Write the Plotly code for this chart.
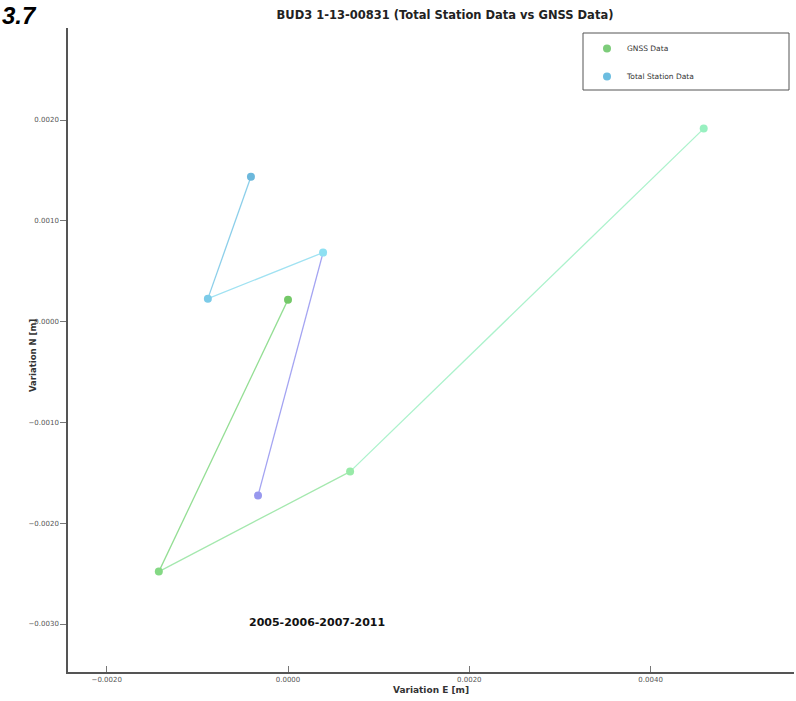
import plotly.graph_objects as go

# Yearly displacement, in metres (E, N), epochs 2005-2006-2007-2011
years = ["2005", "2006", "2007", "2011"]

gnss_e = [0.0000, -0.001425, 0.000685, 0.004586]
gnss_n = [0.000218, -0.002480, -0.001488, 0.001915]

ts_e = [-0.000331, 0.000387, -0.000884, -0.000409]
ts_n = [-0.001726, 0.000685, 0.000228, 0.001438]

# Colour ramps per epoch (points) and per interval (segments)
gnss_point_colors = ["#74c868", "#84d884", "#98eaa8", "#98f0c0"]
gnss_seg_colors = ["#94de94", "#a4e8ae", "#acf2cc"]
ts_point_colors = ["#9898ee", "#8ee0f2", "#7ccbe8", "#6cb8dc"]
ts_seg_colors = ["#a4a4f2", "#a0e2f2", "#8ccfea"]

x_ticks = [-0.002, 0.0, 0.002, 0.004]
y_ticks = [0.002, 0.001, 0.0, -0.001, -0.002, -0.003]

fig = go.Figure()


def add_path(xs, ys, seg_colors, point_colors, name):
    for i in range(len(xs) - 1):
        fig.add_trace(go.Scatter(
            x=xs[i:i + 2], y=ys[i:i + 2], mode="lines",
            line=dict(color=seg_colors[i], width=1.3),
            showlegend=False, hoverinfo="skip"))
    fig.add_trace(go.Scatter(
        x=xs, y=ys, mode="markers", name=name, text=years,
        marker=dict(color=point_colors, size=8),
        showlegend=False))


add_path(gnss_e, gnss_n, gnss_seg_colors, gnss_point_colors, "GNSS Data")
add_path(ts_e, ts_n, ts_seg_colors, ts_point_colors, "Total Station Data")

# Legend entries
fig.add_trace(go.Scatter(x=[None], y=[None], mode="markers", name="GNSS Data",
                         legendgroup="g", marker=dict(color="#7dcc7a", size=8)))
fig.add_trace(go.Scatter(x=[None], y=[None], mode="markers", name="Total Station Data",
                         legendgroup="t", marker=dict(color="#6cbde0", size=8)))

W, H = 796, 701
L, R, T, B = 68, 2, 28, 29
pw, ph = W - L - R, H - T - B


def px_x(p):
    return (p - L) / pw


def px_y(p):
    return 1 - (p - T) / ph


tick_font = dict(family="DejaVu Sans", size=7, color="#555555")
title_font = dict(family="DejaVu Sans", size=9, color="#333333")

fig.update_layout(
    width=W, height=H,
    margin=dict(l=L, r=R, t=T, b=B),
    paper_bgcolor="white", plot_bgcolor="white",
    title=dict(text="<b>BUD3 1-13-00831 (Total Station Data vs GNSS Data)</b>",
               x=445 / W, xanchor="center", y=1 - 15 / H, yanchor="middle",
               font=dict(family="DejaVu Sans", size=11.5, color="#222222")),
    xaxis=dict(range=[-0.002427, 0.005582], tickvals=x_ticks, tickformat=".4f",
               showgrid=False, zeroline=False, showline=True, linecolor="#555555",
               linewidth=1.5, ticks="inside", ticklen=6, tickcolor="#777777",
               tickfont=tick_font,
               title=dict(text="<b>Variation E [m]</b>", font=title_font, standoff=4)),
    yaxis=dict(range=[-0.003476, 0.002913], tickvals=y_ticks, tickformat=".4f",
               showgrid=False, zeroline=False, showline=True, linecolor="#555555",
               linewidth=1.5, ticks="outside", ticklen=6, tickcolor="#777777",
               tickfont=tick_font),
    legend=dict(x=px_x(587), y=px_y(34), xanchor="left", yanchor="top",
                bgcolor="rgba(0,0,0,0)", borderwidth=0,
                font=dict(family="DejaVu Sans", size=7.5, color="#333333"),
                tracegroupgap=9, traceorder="grouped"),
    showlegend=True,
)

# Y axis title, set close to the tick labels
fig.add_annotation(text="<b>Variation N [m]</b>", xref="paper", yref="paper",
                   x=px_x(26), y=px_y(356), textangle=-90, showarrow=False,
                   font=dict(family="DejaVu Sans", size=8.5, color="#333333"))

# Legend frame
fig.add_shape(type="rect", xref="paper", yref="paper",
              x0=px_x(583), x1=px_x(789), y0=px_y(90), y1=px_y(33),
              line=dict(color="#555555", width=1), fillcolor="rgba(0,0,0,0)")

fig.add_annotation(text="<b>2005-2006-2007-2011</b>", xref="paper", yref="paper",
                   x=px_x(317), y=px_y(631), showarrow=False,
                   font=dict(family="DejaVu Sans", size=11, color="#111111"))

fig.add_annotation(text="<b><i>3.7</i></b>", xref="paper", yref="paper",
                   x=px_x(0), y=px_y(0), xanchor="left", yanchor="top",
                   showarrow=False,
                   font=dict(family="Liberation Sans", size=24, color="#000000"))

fig.write_html("out.html")
